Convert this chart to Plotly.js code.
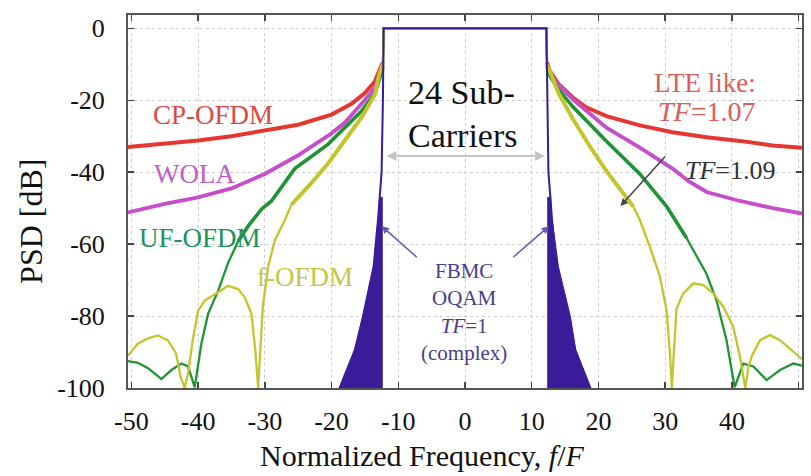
<!DOCTYPE html>
<html>
<head>
<meta charset="utf-8">
<script src="https://cdn.plot.ly/plotly-3.0.1.min.js"></script>
<style>html,body{margin:0;padding:0;background:#fff;}#chart{width:811px;height:476px;}</style>
</head>
<body>
<div id="chart"></div>
<script>
// ---- data (normalized frequency f/F, PSD dB) ----
const cpX = [-50.5,-45,-40,-35,-30,-25,-20,-17,-15,-13.5,-12.8,-12.3,-12.2,12.2,12.3,12.7,14,16.2,18,21.2,26.2,31.1,36.2,41.2,46.1,50.5];
const cpY = [-33.0,-32.0,-31.2,-30.0,-28.5,-26.8,-24.0,-21.0,-18.0,-14.8,-11.5,-9.5,0,0,-9.5,-11.8,-15.5,-19.3,-21.8,-24.4,-27.0,-28.9,-30.3,-31.3,-32.6,-33.2];

const wolaX = [-50.5,-45,-40,-35,-30,-25,-20,-18,-15.5,-13.5,-12.8,-12.3,-12.2,12.2,12.3,13.2,16.2,21.2,26.2,31.1,33.5,36.2,41.2,46.1,50.5];
const wolaY = [-51.2,-48.8,-47.0,-44.5,-40.5,-35.3,-29.2,-26.2,-21.0,-16.5,-12.8,-10.5,0,0,-10.5,-14.2,-19.8,-27.6,-33.2,-39.0,-42.5,-45.5,-48.0,-50.0,-51.5];

const ufX = [-50.5,-49,-47.5,-45.5,-44,-42.5,-41.5,-40.5,-39.5,-38.5,-37,-35.5,-34,-32.5,-30.5,-29,-25.5,-20.5,-15.5,-13.5,-12.8,-12.3,-12.2,12.2,12.3,12.7,14,16.2,21.2,26.2,30.2,33.2,36.2,37.7,39.2,40.4,41.7,43.2,45.2,47.2,49.2,50.5];
const ufY = [-92.5,-93.0,-94.5,-97.5,-95.0,-93.2,-94.0,-99.8,-87.6,-79.4,-73.0,-65.2,-59.2,-55.0,-50.3,-48.0,-39.0,-32.2,-23.0,-18.0,-14.0,-11.0,0,0,-11.0,-13.2,-17.0,-21.9,-31.4,-40.5,-49.5,-58.3,-68.3,-75.7,-86.8,-99.8,-93.2,-94.0,-97.8,-95.0,-93.2,-93.8];

const fofdmX = [-50.5,-49,-47.5,-46,-44.5,-43.3,-42.6,-42.0,-41.5,-40.8,-40,-39,-37,-35.5,-34,-33,-32,-31.4,-31,-30.6,-30.3,-29.5,-28.5,-27,-26,-23,-20.5,-18,-15.5,-13.5,-12.8,-12.3,-12.2,12.2,12.3,12.7,14,16.2,18.7,21.2,24.2,25.2,26.2,27.7,29.2,30.2,30.7,31,31.3,31.7,32.7,34.2,35.7,37.2,38.7,40.2,41.2,42,42.5,43,44.2,45.7,47.2,49.2,50.5];
const fofdmY = [-91,-87.6,-86.2,-85.4,-86.8,-90.4,-97,-100,-96,-86.8,-78.5,-75.7,-73.4,-71.6,-72.5,-74.8,-79.4,-90,-100,-88,-77.4,-66.3,-58.9,-53.3,-49,-43,-37.5,-31.2,-24.8,-18.4,-12.3,-10,0,0,-10,-12,-18,-25.3,-32.8,-39.7,-47,-49.5,-53.3,-60.7,-69,-78.3,-90,-100,-90,-78,-73.7,-70.9,-71.4,-73.7,-77.4,-83,-91.3,-100,-94,-91,-86.7,-85.3,-86.7,-89.9,-92];

// FBMC-OQAM: passband outline and the densely oscillating skirts (drawn filled)
const fbmcX = [-18.8,-16.5,-15.3,-13.7,-13.0,-12.8,-12.5,-12.3,-12.2,12.2,12.3,12.5,12.8,13.0,13.7,15.3,16.5,18.8];
const fbmcY = [-100,-89.4,-80.2,-66.3,-52.4,-47,-40,-20,0,0,-20,-40,-47,-52.4,-66.3,-80.2,-89.4,-100];
const fbmcSkirtLX = [-18.8,-16.5,-15.3,-13.7,-13.0,-12.8,-12.4,-12.4];
const fbmcSkirtLY = [-100,-89.4,-80.2,-66.3,-52.4,-47,-47,-100];
const fbmcSkirtRX = [12.4,12.4,12.8,13.0,14.0,15.8,16.6,18.8];
const fbmcSkirtRY = [-100,-47,-47,-52.4,-66.3,-80.2,-89.4,-100];

const xTicks = [-50,-40,-30,-20,-10,0,10,20,30,40,50];
const xTickText = ["-50","-40","-30","-20","-10","0","10","20","30","40","50"];
const yTicks = [-100,-80,-60,-40,-20,0];
const yTickText = ["-100","-80","-60","-40","-20","0"];

// ---- styling ----
const FONT = "Liberation Serif, Times New Roman, serif";
const C_CP = "#e4372f", C_WOLA = "#c64ecb", C_UF = "#1f9435", C_F = "#c4c42c", C_FBMC = "#3b1c98";

function thickPart(y, thr) { return y.map(v => (v < -5 && v >= thr) ? v : null); }

const traces = [];
function addCurve(x, y, color, thinW, thickW, thr) {
  traces.push({x: x, y: y, type: "scatter", mode: "lines", line: {color: color, width: thinW}, hoverinfo: "skip", showlegend: false});
  traces.push({x: x, y: thickPart(y, thr), type: "scatter", mode: "lines", line: {color: color, width: thickW}, connectgaps: false, hoverinfo: "skip", showlegend: false});
}
addCurve(cpX, cpY, C_CP, 2, 4, -200);
addCurve(wolaX, wolaY, C_WOLA, 2, 3.8, -200);
addCurve(ufX, ufY, C_UF, 2.3, 3.6, -62);
addCurve(fofdmX, fofdmY, C_F, 2.3, 4, -50);
traces.push({x: fbmcSkirtLX, y: fbmcSkirtLY, type: "scatter", mode: "lines", fill: "toself", fillcolor: C_FBMC, line: {color: C_FBMC, width: 1}, hoverinfo: "skip", showlegend: false});
traces.push({x: fbmcSkirtRX, y: fbmcSkirtRY, type: "scatter", mode: "lines", fill: "toself", fillcolor: C_FBMC, line: {color: C_FBMC, width: 1}, hoverinfo: "skip", showlegend: false});
traces.push({x: fbmcX, y: fbmcY, type: "scatter", mode: "lines", line: {color: C_FBMC, width: 2}, hoverinfo: "skip", showlegend: false});

const axisCommon = {
  ticks: "inside", ticklen: 6, tickwidth: 1.5, tickcolor: "#444",
  mirror: "ticks", showline: true, linecolor: "#555", linewidth: 2,
  showgrid: true, gridcolor: "#cfcfcf", griddash: "dot", gridwidth: 1,
  zeroline: false, tickfont: {family: FONT, size: 26, color: "#111"}
};

function txt(x, y, text, color, size) {
  return {x: x, y: y, xref: "x", yref: "y", text: text, showarrow: false,
          font: {family: FONT, size: size, color: color}, xanchor: "center", yanchor: "middle"};
}
function arrow(x, y, ax, ay, color, w, side) {
  return {x: x, y: y, ax: ax, ay: ay, xref: "x", yref: "y", axref: "x", ayref: "y", text: "",
          showarrow: true, arrowhead: 2, arrowsize: 1, arrowwidth: w, arrowcolor: color, arrowside: side || "end"};
}

const annotations = [
  txt(-0.5, -17.8, "24 Sub-", "#111", 34),
  txt(-0.3, -29.7, "Carriers", "#111", 34),
  arrow(12.0, -35.5, -12.0, -35.5, "#c4c4c4", 2, "end+start"),
  txt(-37.8, -24.2, "CP-OFDM", "#d94a44", 27),
  txt(-40.6, -40.6, "WOLA", "#c25ec6", 27),
  txt(-39.7, -58.2, "UF-OFDM", "#23935a", 27),
  txt(-24.0, -69.2, "f-OFDM", "#c6c64a", 27),
  txt(36.0, -15.3, "LTE like:", "#d9605a", 27),
  txt(36.2, -23.0, "<i>TF</i>=1.07", "#d9605a", 28),
  txt(39.8, -39.4, "<i>TF</i>=1.09", "#333", 26),
  arrow(23.3, -49.4, 30.2, -35.2, "#444", 1.5),
  {x: -0.2, y: -79.0, xref: "x", yref: "y", text: "FBMC<br>OQAM<br><i>TF</i>=1<br>(complex)", showarrow: false,
   font: {family: FONT, size: 21, color: "#4b3c8c"}, xanchor: "center", yanchor: "middle", align: "center"},
  arrow(-12.5, -55, -7.0, -64, "#6a5aa8", 1.5),
  arrow(12.6, -55, 7.0, -64, "#6a5aa8", 1.5),
  {x: 0.436, y: -0.18, xref: "paper", yref: "paper", text: "Normalized Frequency, <i>f</i>/<i>F</i>", showarrow: false,
   font: {family: FONT, size: 30, color: "#111"}, xanchor: "center", yanchor: "middle"},
  {x: -0.145, y: 0.446, xref: "paper", yref: "paper", text: "PSD [dB]", showarrow: false, textangle: -90,
   font: {family: FONT, size: 32, color: "#111"}, xanchor: "center", yanchor: "middle"}
];

const layout = {
  width: 811, height: 476,
  margin: {l: 128, r: 9, t: 15, b: 87.5},
  paper_bgcolor: "#fff", plot_bgcolor: "#fff",
  showlegend: false,
  xaxis: Object.assign({}, axisCommon, {range: [-50.5, 50.5], tickvals: xTicks, ticktext: xTickText, ticklabelstandoff: 9}),
  yaxis: Object.assign({}, axisCommon, {range: [-100, 3.7], tickvals: yTicks, ticktext: yTickText, ticklabelstandoff: 16}),
  annotations: annotations
};

Plotly.newPlot("chart", traces, layout, {staticPlot: true, displayModeBar: false});
</script>
</body>
</html>
